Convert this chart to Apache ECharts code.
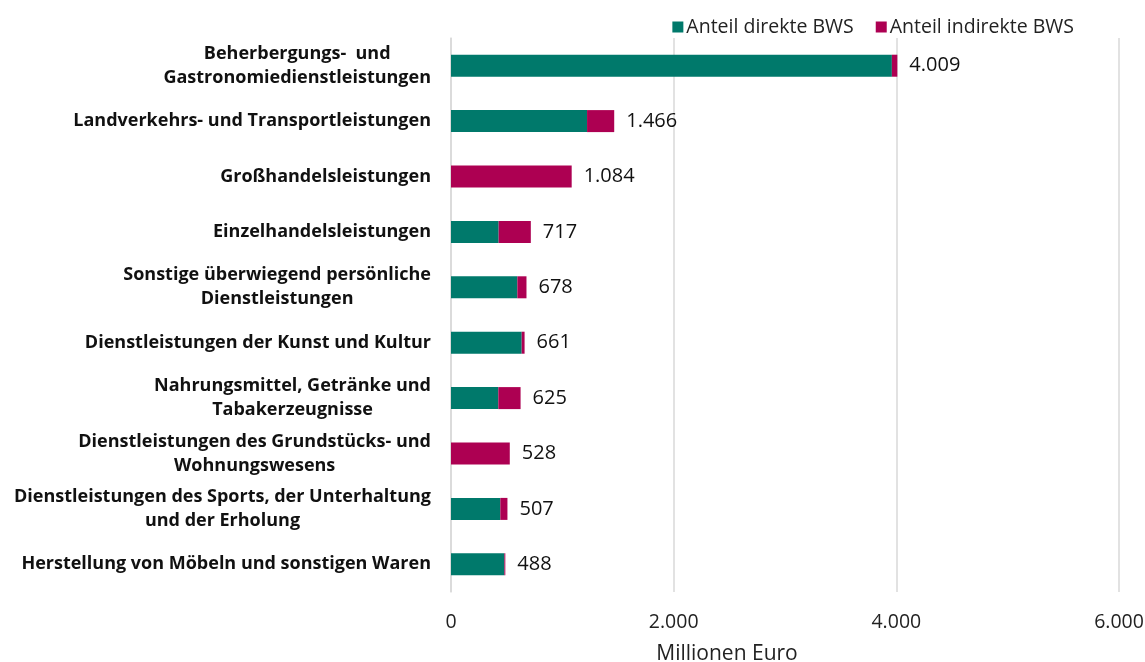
<!DOCTYPE html>
<html>
<head>
<meta charset="utf-8">
<script src="https://cdn.jsdelivr.net/npm/echarts@6/dist/echarts.min.js"></script>
<style>
  html, body { margin: 0; padding: 0; background: #fff; }
  #chart { width: 1145px; height: 662px; }
</style>
</head>
<body>
<div id="chart"></div>
<script>
const categories = [
  'Beherbergungs-  und\nGastronomiedienstleistungen',
  'Landverkehrs- und Transportleistungen',
  'Großhandelsleistungen',
  'Einzelhandelsleistungen',
  'Sonstige überwiegend persönliche\nDienstleistungen',
  'Dienstleistungen der Kunst und Kultur',
  'Nahrungsmittel, Getränke und\nTabakerzeugnisse',
  'Dienstleistungen des Grundstücks- und\nWohnungswesens',
  'Dienstleistungen des Sports, der Unterhaltung\nund der Erholung',
  'Herstellung von Möbeln und sonstigen Waren'
]
const direktBWS = [3960, 1222, 0, 428, 596, 635, 425, 0, 443, 479]
const indirektBWS = [49, 244, 1084, 289, 82, 26, 200, 528, 64, 9]
const totals = [4009, 1466, 1084, 717, 678, 661, 625, 528, 507, 488]

const fmt = v => String(v).replace(/\B(?=(\d{3})+(?!\d))/g, '.')

const font = '"Open Sans", sans-serif'
const chart = echarts.init(document.getElementById('chart'))

const option = {
  animation: false,
  textStyle: { fontFamily: font },
  legend: {
    right: 66,
    top: 12,
    itemWidth: 11,
    itemHeight: 11,
    itemGap: 22,
    icon: 'rect',
    textStyle: { fontSize: 19.5, color: '#222', fontFamily: font, padding: [0, 0, 0, -2] },
    data: ['Anteil direkte BWS', 'Anteil indirekte BWS']
  },
  grid: {
    left: 451,
    right: 26,
    top: 38,
    bottom: 70,
    outerBoundsMode: 'none'
  },
  xAxis: {
    type: 'value',
    min: 0,
    max: 6000,
    interval: 2000,
    name: 'Millionen Euro',
    nameLocation: 'middle',
    nameGap: 52,
    nameTextStyle: { fontSize: 21, color: '#222', fontFamily: font, padding: [0, 116, 0, 0] },
    axisLabel: {
      fontSize: 19.5,
      color: '#222',
      margin: 20,
      fontFamily: font,
      formatter: v => fmt(v)
    },
    axisLine: { show: false },
    axisTick: { show: false },
    splitLine: { lineStyle: { color: '#d9d9d9', width: 1.5 } }
  },
  yAxis: {
    type: 'category',
    inverse: true,
    data: categories,
    axisLine: { lineStyle: { color: '#d9d9d9', width: 1.5 } },
    axisTick: { show: false },
    axisLabel: {
      margin: 20,
      formatter: v => v.split('\n').map(l => '{c|' + l + '}').join('\n'),
      rich: {
        c: {
          align: 'center',
          fontSize: 18,
          fontWeight: 'bold',
          color: '#111',
          lineHeight: 24,
          fontFamily: font
        }
      }
    }
  },
  series: [
    {
      name: 'Anteil direkte BWS',
      type: 'bar',
      stack: 'bws',
      barWidth: 22,
      itemStyle: { color: '#00796b' },
      data: direktBWS
    },
    {
      name: 'Anteil indirekte BWS',
      type: 'bar',
      stack: 'bws',
      barWidth: 22,
      itemStyle: { color: '#ad0052' },
      label: {
        show: true,
        position: 'right',
        distance: 12,
        fontSize: 20,
        color: '#111',
        fontFamily: font,
        formatter: p => fmt(totals[p.dataIndex])
      },
      data: indirektBWS
    }
  ]
}

chart.setOption(option)
window.addEventListener('resize', () => chart.resize())
</script>
</body>
</html>
